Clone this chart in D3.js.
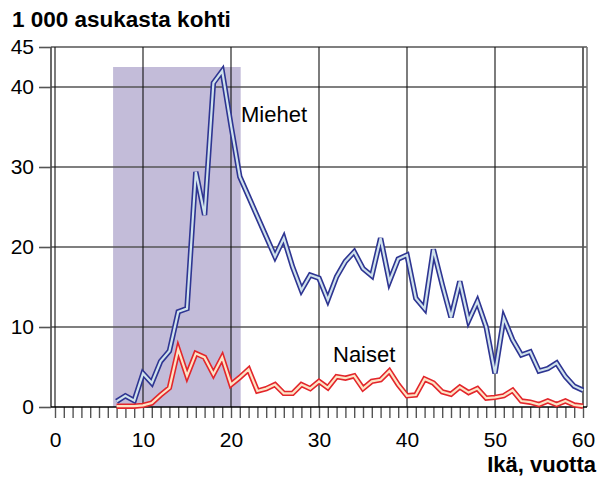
<!doctype html>
<html>
<head>
<meta charset="utf-8">
<script src="https://d3js.org/d3.v7.min.js"></script>
<style>
  body { margin: 0; background: #fff; }
  svg { display: block; font-family: "Liberation Sans", Arial, sans-serif; }
  .tick text { font-size: 21px; fill: #000; }
  .line-out { fill: none; stroke-width: 5.4px; stroke-linejoin: miter; }
  .line-in { fill: none; stroke-width: 2.2px; stroke-linejoin: miter; }
</style>
</head>
<body>
<div id="chart"></div>
<script>
// ages 7..60
var ages = d3.range(7, 61);

var miehet = [0.7, 1.4, 0.8, 4.2, 3.0, 5.7, 7.0, 11.9, 12.3, 29.4,
  24.0, 40.5, 42.0, 35.2, 28.8, 26.3, 23.8, 21.3, 18.8, 21.1,
  17.5, 14.6, 16.5, 16.1, 13.4, 16.3, 18.2, 19.4, 17.3, 16.4,
  21.1, 15.7, 18.5, 19.0, 13.6, 12.3, 19.7, 15.3, 11.2, 15.7,
  10.8, 13.2, 10.0, 4.2, 11.1, 8.4, 6.5, 6.9, 4.5, 4.8,
  5.5, 3.8, 2.6, 2.1];

var naiset = [0.1, 0.1, 0.1, 0.2, 0.5, 1.5, 2.4, 7.2, 3.9, 6.7,
  6.2, 4.1, 6.2, 2.8, 3.7, 4.7, 2.0, 2.3, 2.8, 1.7,
  1.7, 2.8, 2.3, 3.2, 2.4, 3.8, 3.6, 3.9, 2.3, 3.2,
  3.4, 4.5, 2.8, 1.4, 1.5, 3.5, 3.0, 1.9, 1.6, 2.5,
  1.8, 2.3, 1.1, 1.2, 1.4, 2.1, 0.75, 0.6, 0.3, 0.75,
  0.3, 0.75, 0.25, 0.1];

var xTicks = d3.range(0, 61);
var xLabels = [0, 10, 20, 30, 40, 50, 60];
var yTicks = [0, 10, 20, 30, 40, 45];
var highlightAges = [6.6, 21.1];
var highlightTop = 42.5;

var width = 598, height = 478;

var svg = d3.select("#chart").append("svg")
    .attr("width", width)
    .attr("height", height);

var x = d3.scaleLinear().domain([0, 60]).range([55, 583]);
var y = d3.scaleLinear().domain([0, 45]).range([407, 47]);

// shaded age band
svg.append("rect")
    .attr("x", x(highlightAges[0]))
    .attr("y", y(highlightTop))
    .attr("width", x(highlightAges[1]) - x(highlightAges[0]))
    .attr("height", y(0) - y(highlightTop))
    .attr("fill", "#c3bcd9");

// horizontal grid
svg.append("g").selectAll("line")
    .data([10, 20, 30, 40, 45])
    .join("line")
    .attr("x1", 51).attr("x2", 587)
    .attr("y1", function(d) { return y(d); })
    .attr("y2", function(d) { return y(d); })
    .attr("stroke", "#555")
    .attr("stroke-width", 1.6);

// vertical grid
svg.append("g").selectAll("line")
    .data([0, 10, 20, 30, 40, 50, 60])
    .join("line")
    .attr("x1", function(d) { return x(d); })
    .attr("x2", function(d) { return x(d); })
    .attr("y1", y(45)).attr("y2", y(0))
    .attr("stroke", function(d) { return d == 60 ? "#555" : "#111"; })
    .attr("stroke-width", function(d) { return d == 60 ? 1.8 : 1.1; });

// outer frame sides
svg.append("line").attr("x1", 51).attr("x2", 51).attr("y1", y(45)).attr("y2", y(0))
    .attr("stroke", "#444").attr("stroke-width", 1.6);
svg.append("line").attr("x1", 587).attr("x2", 587).attr("y1", y(45)).attr("y2", y(0))
    .attr("stroke", "#777").attr("stroke-width", 1.6);

// x axis
var xAxis = svg.append("g")
    .attr("transform", "translate(0," + y(0) + ")")
    .call(d3.axisBottom(x)
      .tickValues(xTicks)
      .tickSize(11)
      .tickPadding(14)
      .tickFormat(function(d) { return xLabels.indexOf(d) >= 0 ? d : ""; }));
xAxis.select(".domain").remove();
xAxis.selectAll(".tick line").attr("stroke", "#555").attr("stroke-width", 1.4);

svg.append("line").attr("x1", 51).attr("x2", 587).attr("y1", y(0)).attr("y2", y(0))
    .attr("stroke", "#000").attr("stroke-width", 1.6);

// y axis
var yAxis = svg.append("g")
    .attr("transform", "translate(51,0)")
    .call(d3.axisLeft(y)
      .tickValues(yTicks)
      .tickSize(12)
      .tickPadding(5));
yAxis.select(".domain").remove();
yAxis.selectAll(".tick line").attr("stroke", "#555").attr("stroke-width", 1.6);

// lines
var line = d3.line()
    .x(function(d, i) { return x(ages[i]); })
    .y(function(d) { return y(d); });

function doubleLine(values, outer, inner) {
  svg.append("path").datum(values).attr("class", "line-out")
      .attr("stroke", outer).attr("d", line);
  svg.append("path").datum(values).attr("class", "line-in")
      .attr("stroke", inner).attr("d", line);
}
doubleLine(miehet, "#2e3592", "#cfe2ec");
doubleLine(naiset, "#e3262b", "#fde5c6");

// labels
svg.append("text").attr("x", 241).attr("y", 122)
    .style("font-size", "22px").text("Miehet");
svg.append("text").attr("x", 333).attr("y", 362)
    .style("font-size", "22px").text("Naiset");

svg.append("text").attr("x", 12).attr("y", 27)
    .style("font-size", "22.5px").style("font-weight", "bold")
    .text("1 000 asukasta kohti");
svg.append("text").attr("x", 596).attr("y", 472)
    .attr("text-anchor", "end")
    .style("font-size", "22px").style("font-weight", "bold")
    .text("Ikä, vuotta");
</script>
</body>
</html>
